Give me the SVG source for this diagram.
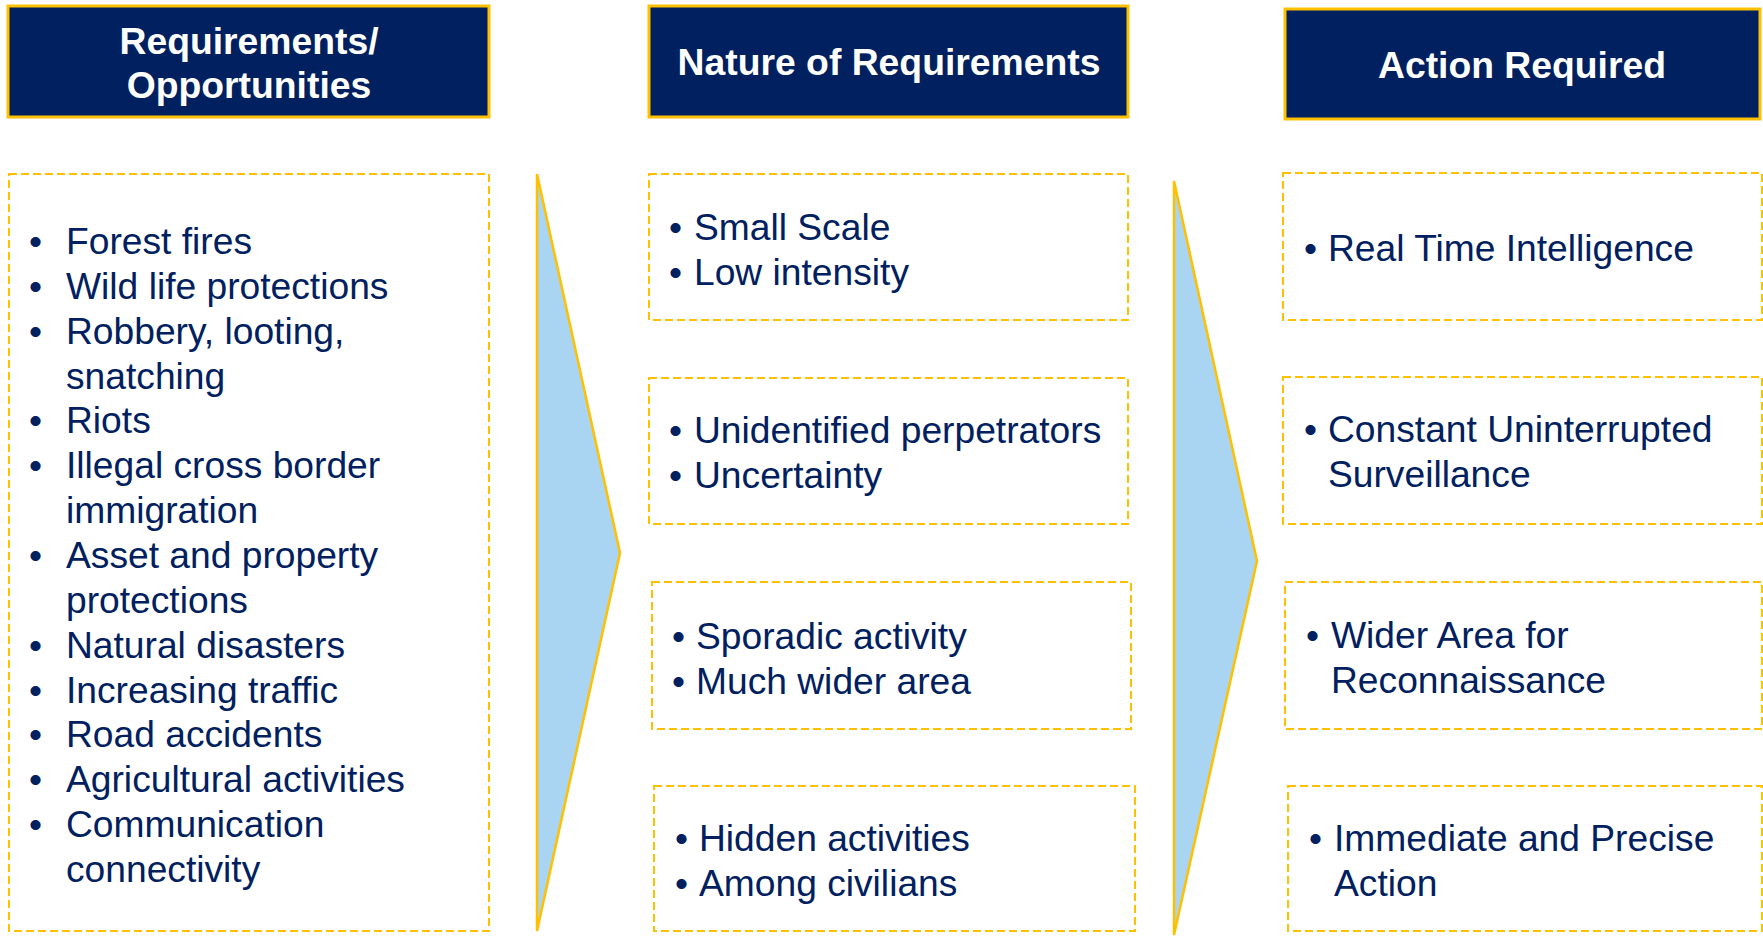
<svg xmlns="http://www.w3.org/2000/svg" width="1763" height="936" viewBox="0 0 1763 936">
<style>
.hdr{fill:#002060;stroke:#FFC000;stroke-width:3}
.htx{font-family:"Liberation Sans",Arial,sans-serif;font-weight:bold;font-size:37.3px;fill:#FFFFFF;text-anchor:middle}
.box{fill:#FFFFFF;stroke:#FFC000;stroke-width:2;stroke-dasharray:8 4}
.tx{font-family:"Liberation Sans",Arial,sans-serif;font-size:37.2px;fill:#002060}
.arr{fill:#A9D5F2;stroke:#FFC000;stroke-width:2.5;stroke-linejoin:miter}
</style>
<rect width="1763" height="936" fill="#FFFFFF"/>
<g id="header-requirements">
<rect class="hdr" x="8" y="6" width="481" height="111"/>
<text class="htx" x="249" y="54">Requirements/</text>
<text class="htx" x="249" y="98">Opportunities</text>
</g>
<g id="header-nature">
<rect class="hdr" x="649" y="6" width="479" height="111"/>
<text class="htx" x="889" y="75">Nature of Requirements</text>
</g>
<g id="header-action">
<rect class="hdr" x="1285" y="9" width="475" height="110"/>
<text class="htx" x="1522" y="78">Action Required</text>
</g>
<g id="connectors">
<polygon class="arr" points="537,174 620,553 537,931"/>
<polygon class="arr" points="1174,181 1257,561 1174,935"/>
</g>
<g id="requirements-list">
<rect class="box" x="9" y="174" width="480" height="757"/>
<g class="tx">
<text x="29" y="254">•</text><text x="66" y="254">Forest fires</text>
<text x="29" y="298.9">•</text><text x="66" y="298.9">Wild life protections</text>
<text x="29" y="343.7">•</text><text x="66" y="343.7">Robbery, looting,</text>
<text x="66" y="388.6">snatching</text>
<text x="29" y="433.4">•</text><text x="66" y="433.4">Riots</text>
<text x="29" y="478.3">•</text><text x="66" y="478.3">Illegal cross border</text>
<text x="66" y="523.1">immigration</text>
<text x="29" y="568">•</text><text x="66" y="568">Asset and property</text>
<text x="66" y="612.8">protections</text>
<text x="29" y="657.7">•</text><text x="66" y="657.7">Natural disasters</text>
<text x="29" y="702.5">•</text><text x="66" y="702.5">Increasing traffic</text>
<text x="29" y="747.4">•</text><text x="66" y="747.4">Road accidents</text>
<text x="29" y="792.2">•</text><text x="66" y="792.2">Agricultural activities</text>
<text x="29" y="837.1">•</text><text x="66" y="837.1">Communication</text>
<text x="66" y="881.9">connectivity</text>
</g>
</g>
<g id="nature-1">
<rect class="box" x="649" y="174" width="479" height="146"/>
<g class="tx">
<text x="669" y="240">•</text><text x="694" y="240">Small Scale</text>
<text x="669" y="285">•</text><text x="694" y="285">Low intensity</text>
</g>
</g>
<g id="nature-2">
<rect class="box" x="649" y="378" width="479" height="146"/>
<g class="tx">
<text x="669" y="443">•</text><text x="694" y="443">Unidentified perpetrators</text>
<text x="669" y="488">•</text><text x="694" y="488">Uncertainty</text>
</g>
</g>
<g id="nature-3">
<rect class="box" x="652" y="582" width="479" height="147"/>
<g class="tx">
<text x="672" y="649">•</text><text x="696" y="649">Sporadic activity</text>
<text x="672" y="694">•</text><text x="696" y="694">Much wider area</text>
</g>
</g>
<g id="nature-4">
<rect class="box" x="654" y="786" width="481" height="145"/>
<g class="tx">
<text x="675" y="851">•</text><text x="699" y="851">Hidden activities</text>
<text x="675" y="896">•</text><text x="699" y="896">Among civilians</text>
</g>
</g>
<g id="action-1">
<rect class="box" x="1283" y="173" width="479" height="147"/>
<g class="tx">
<text x="1304" y="261">•</text><text x="1328" y="261">Real Time Intelligence</text>
</g>
</g>
<g id="action-2">
<rect class="box" x="1283" y="377" width="479" height="147"/>
<g class="tx">
<text x="1304" y="442">•</text><text x="1328" y="442">Constant Uninterrupted</text>
<text x="1328" y="487">Surveillance</text>
</g>
</g>
<g id="action-3">
<rect class="box" x="1285" y="582" width="477" height="147"/>
<g class="tx">
<text x="1306" y="648">•</text><text x="1331" y="648">Wider Area for</text>
<text x="1331" y="693">Reconnaissance</text>
</g>
</g>
<g id="action-4">
<rect class="box" x="1288" y="786" width="474" height="145"/>
<g class="tx">
<text x="1309" y="851">•</text><text x="1334" y="851">Immediate and Precise</text>
<text x="1334" y="896">Action</text>
</g>
</g>
</svg>
